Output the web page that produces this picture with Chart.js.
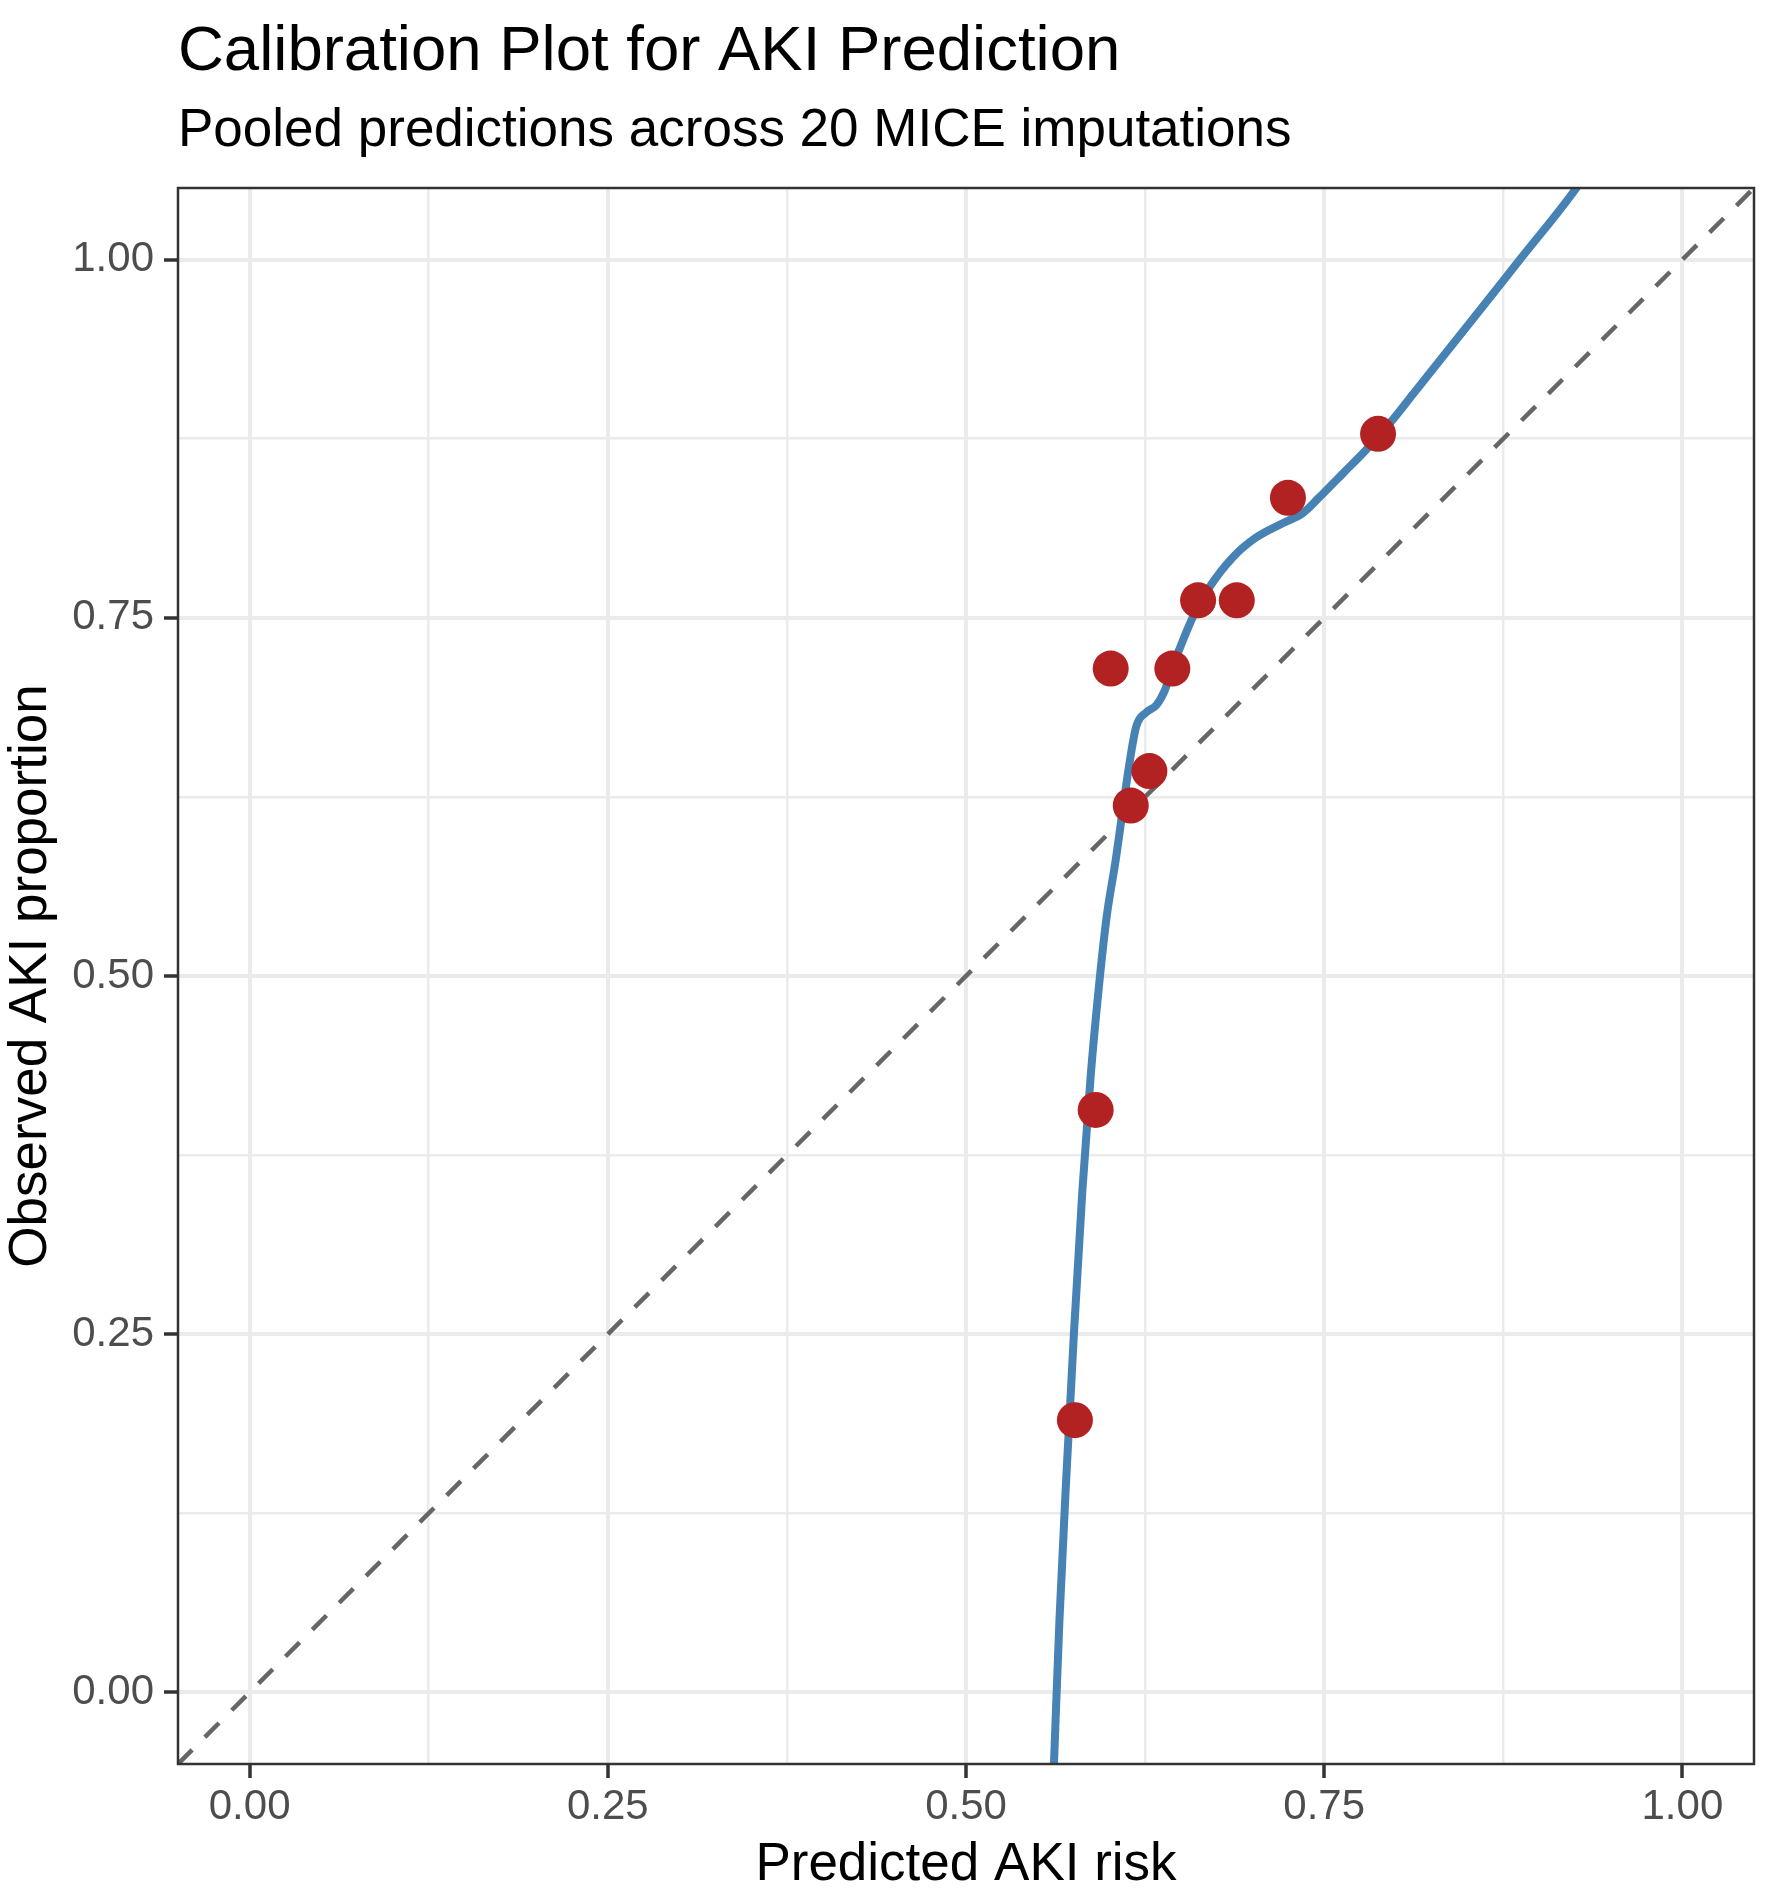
<!DOCTYPE html>
<html>
<head>
<meta charset="utf-8">
<title>Calibration Plot for AKI Prediction</title>
<script src="https://cdn.jsdelivr.net/npm/chart.js@4.4.1/dist/chart.umd.min.js"></script>
<style>
  html, body { margin: 0; padding: 0; background: #ffffff; }
  #wrap { width: 1772px; height: 1897px; position: relative; }
</style>
</head>
<body>
<div id="wrap"><canvas id="calibChart"></canvas></div>
<script>
// Observed vs predicted AKI risk (binned)
const binPredicted = [0.576, 0.5905, 0.615, 0.628, 0.601, 0.644, 0.662, 0.689, 0.7247, 0.7876];
const binObserved  = [0.190, 0.4065, 0.619, 0.643, 0.7146, 0.7146, 0.7622, 0.7622, 0.8338, 0.8784];

// Smoothed calibration curve (loess)
const smoothX = [0.5612, 0.5652, 0.5700, 0.5753, 0.5812, 0.5870, 0.5925, 0.5980,
                 0.6045, 0.609, 0.6137, 0.6188, 0.6258, 0.6328, 0.6386, 0.6444, 0.6513, 0.6595,
                 0.670, 0.686, 0.7024, 0.721, 0.735, 0.7465, 0.7628, 0.779, 0.7976, 0.8115,
                 0.8254, 0.851, 0.8858, 0.9253, 0.930];
const smoothY = [-0.055, 0.050, 0.150, 0.250, 0.350, 0.430, 0.490, 0.540,
                 0.581, 0.613, 0.646, 0.674, 0.684, 0.689, 0.699, 0.716, 0.734, 0.753,
                 0.7715, 0.792, 0.806, 0.816, 0.823, 0.834, 0.8505, 0.867, 0.888, 0.9055,
                 0.923, 0.955, 0.999, 1.049, 1.056];

// Perfect calibration reference (y = x) across the panel
const diagX = [-0.05, 1.05];

// Axis range and ticks
const axisMin = -0.05;
const axisMax = 1.05;
const majorTicks = [0, 0.25, 0.5, 0.75, 1];
const minorTicks = [0.125, 0.375, 0.625, 0.875];

const allTicks = majorTicks.concat(minorTicks).sort((a, b) => a - b);
const isMajor = v => majorTicks.some(m => Math.abs(m - v) < 1e-9);

const FONT = "'Liberation Sans', Arial, Helvetica, sans-serif";

// theme_bw style frame around the panel
const panelBorder = {
    id: 'panelBorder',
    beforeDraw(chart) {
        const { ctx } = chart;
        ctx.save();
        ctx.fillStyle = '#ffffff';
        ctx.fillRect(0, 0, chart.width, chart.height);
        ctx.restore();
    },
    afterDatasetsDraw(chart) {
        const { ctx, chartArea: a } = chart;
        ctx.save();
        ctx.strokeStyle = '#333333';
        ctx.lineWidth = 2.5;
        ctx.strokeRect(a.left, a.top, a.right - a.left, a.bottom - a.top);
        ctx.restore();
    }
};

function axisOptions(titleText, isX) {
    return {
        type: 'linear',
        min: axisMin,
        max: axisMax,
        afterBuildTicks: (scale) => {
            scale.ticks = allTicks.map(v => ({ value: v }));
        },
        afterFit: (scale) => {
            if (isX) scale.height = 133;
            else scale.width = 178;
        },
        border: { display: false },
        grid: {
            color: '#ebebeb',
            lineWidth: ctx => (ctx.tick && isMajor(ctx.tick.value)) ? 4 : 2.5,
            drawTicks: true,
            tickLength: 14,
            tickWidth: 3.5,
            tickColor: ctx => (ctx.tick && isMajor(ctx.tick.value)) ? '#333333' : 'rgba(0,0,0,0)'
        },
        ticks: {
            autoSkip: false,
            maxRotation: 0,
            padding: isX ? 4 : 10,
            color: '#4d4d4d',
            font: { family: FONT, size: 42 },
            callback: (value) => isMajor(value) ? Number(value).toFixed(2) : ''
        },
        title: {
            display: true,
            text: titleText,
            color: '#000000',
            font: { family: FONT, size: 53 },
            padding: { top: 0, bottom: 0 }
        }
    };
}

const ctx = document.getElementById('calibChart').getContext('2d');
const calibChart = new Chart(ctx, {
    type: 'scatter',
    data: {
        datasets: [
            {
                label: 'Binned observed',
                data: binPredicted.map((x, i) => ({ x: x, y: binObserved[i] })),
                backgroundColor: '#b22222',
                borderColor: '#b22222',
                borderWidth: 0,
                pointRadius: 18,
                pointHoverRadius: 18,
                order: 0
            },
            {
                label: 'Smoothed calibration',
                data: smoothX.map((x, i) => ({ x: x, y: smoothY[i] })),
                showLine: true,
                borderColor: '#4682b4',
                borderWidth: 8,
                cubicInterpolationMode: 'monotone',
                pointRadius: 0,
                pointHoverRadius: 0,
                borderCapStyle: 'round',
                borderJoinStyle: 'round',
                order: 1
            },
            {
                label: 'Perfect calibration',
                data: diagX.map(v => ({ x: v, y: v })),
                showLine: true,
                borderColor: '#666666',
                borderWidth: 4.5,
                borderDash: [20, 18],
                pointRadius: 0,
                pointHoverRadius: 0,
                order: 2
            }
        ]
    },
    options: {
        responsive: true,
        maintainAspectRatio: false,
        devicePixelRatio: 1,
        animation: false,
        layout: { padding: { left: 0, right: 18, top: 0, bottom: 0 } },
        scales: {
            x: axisOptions('Predicted AKI risk', true),
            y: axisOptions('Observed AKI proportion', false)
        },
        plugins: {
            legend: { display: false },
            tooltip: { enabled: false },
            title: {
                display: true,
                text: 'Calibration Plot for AKI Prediction',
                align: 'start',
                fullSize: false,
                color: '#000000',
                font: { family: FONT, size: 63.5, weight: 'normal' },
                padding: { top: 14, bottom: 4 }
            },
            subtitle: {
                display: true,
                text: 'Pooled predictions across 20 MICE imputations',
                align: 'start',
                fullSize: false,
                color: '#000000',
                font: { family: FONT, size: 53, weight: 'normal' },
                padding: { top: 5, bottom: 25.2 }
            }
        }
    },
    plugins: [panelBorder]
});
</script>
</body>
</html>
